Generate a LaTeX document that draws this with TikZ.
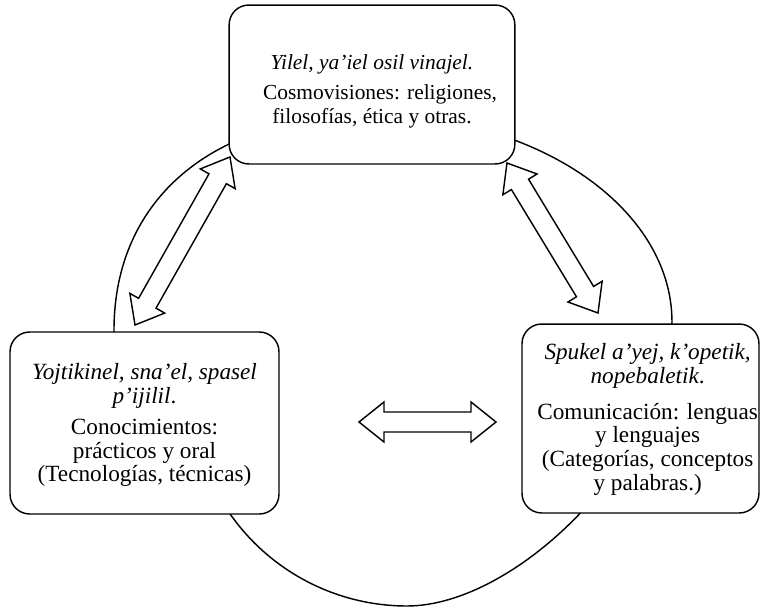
\documentclass[tikz,border=0pt]{standalone}
\usepackage{fontspec}
\setmainfont{Liberation Serif}
\usetikzlibrary{calc}

\tikzset{
  tema/.style={draw=black, line width=0.8pt, fill=white, rounded corners=11pt,
    inner sep=0pt},
  texto/.style={align=center, inner sep=0pt, font=\fontsize{13}{13.2}\selectfont},
  textochico/.style={texto, font=\fontsize{12}{13.2}\selectfont},
  flecha/.style={draw=black, line width=0.8pt, fill=white, line join=miter},
  ciclo/.style={draw=black, line width=0.8pt},
}

% hollow two-headed block arrow between two named points
\newcommand\flechadoble[2]{%
  \path[flecha] (#1)
    -- ($(#1)!14pt!(#2)!11.2pt!90:(#2)$)
    -- ($(#1)!14pt!(#2)!5.6pt!90:(#2)$)
    -- ($(#2)!14pt!(#1)!5.6pt!-90:(#1)$)
    -- ($(#2)!14pt!(#1)!11.2pt!-90:(#1)$)
    -- (#2)
    -- ($(#2)!14pt!(#1)!11.2pt!90:(#1)$)
    -- ($(#2)!14pt!(#1)!5.6pt!90:(#1)$)
    -- ($(#1)!14pt!(#2)!5.6pt!-90:(#2)$)
    -- ($(#1)!14pt!(#2)!11.2pt!-90:(#2)$)
    -- cycle;}

\begin{document}
\begin{tikzpicture}[x=0.56pt, y=-0.56pt]
\useasboundingbox (0,0) rectangle (761,607);

% the cycle behind the three boxes
\draw[ciclo] (371,115) .. controls (537,115) and (672,208) .. (672,322)
  .. controls (666,460) and (515,606) .. (407,606)
  .. controls (338.4,606) and (273.6,573.3) .. (233,518)
  .. controls (185.6,453.5) and (114,410) .. (114,330)
  .. controls (114,200) and (212,115) .. cycle;

% boxes
\node[tema, minimum width=160pt, minimum height=89pt,
  label={[textochico, name=cosmo-txt, yshift=-3.9pt]center:{%
    \textit{Yilel, ya’iel osil vinajel.}\\[3.5pt]
    \hspace*{9pt}Cosmovisiones: religiones,\\ filosofías, ética y otras.}}]
  (cosmo) at (372,84.5) {};
\node[tema, minimum width=150.6pt, minimum height=101.9pt,
  label={[texto, name=conoc-txt, yshift=-1.2pt]center:{%
    \textit{Yojtikinel, sna’el, spasel}\\ \textit{p’ijilil}.\\[4.5pt]
    Conocimientos:\\ prácticos y oral\\ (Tecnologías, técnicas)}}]
  (conoc) at (144.5,423) {};
\node[tema, minimum width=132.7pt, minimum height=105.8pt,
  label={[texto, name=comun-txt, xshift=4pt, yshift=-0.5pt]center:{%
    \textit{Spukel a’yej, k’opetik,}\\ \textit{nopebaletik}.\\[7pt]
    Comunicación: lenguas\\ y lenguajes\\ (Categorías, conceptos\\ y palabras.)}}]
  (comun) at (640.5,418.5) {};

% arrow ends
\coordinate (cosmo-izq) at (230,157);
\coordinate (conoc-arr) at (135,325);
\coordinate (cosmo-der) at (507,163);
\coordinate (comun-arr) at (598,313);
\coordinate (conoc-der) at (359,422);
\coordinate (comun-izq) at (496,422);

\flechadoble{conoc-arr}{cosmo-izq}
\flechadoble{cosmo-der}{comun-arr}
\flechadoble{conoc-der}{comun-izq}
\end{tikzpicture}
\end{document}
